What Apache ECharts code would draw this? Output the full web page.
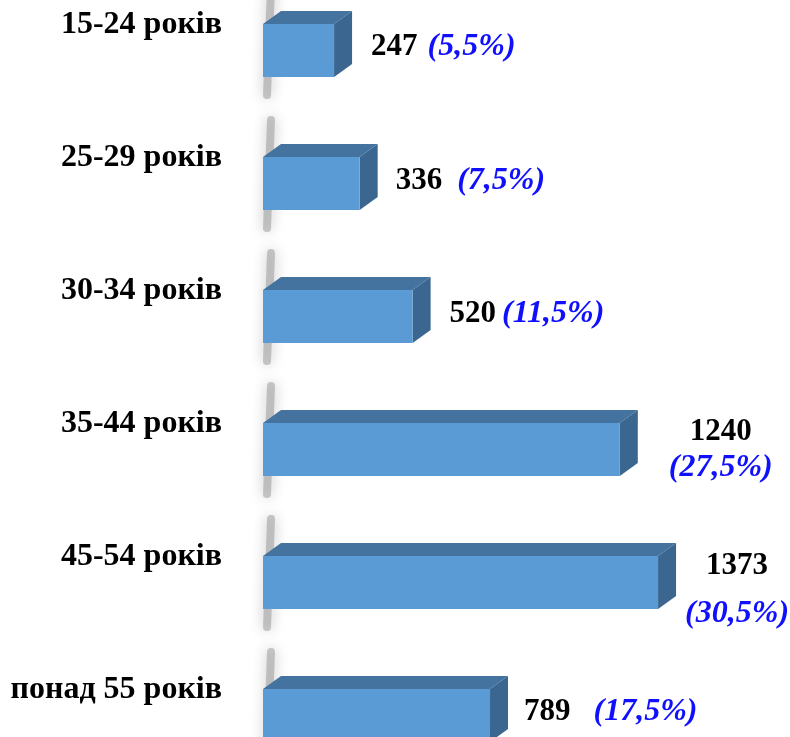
<!DOCTYPE html>
<html>
<head>
<meta charset="utf-8">
<script src="https://cdn.jsdelivr.net/npm/echarts@6/dist/echarts.min.js"></script>
<style>
html,body{margin:0;padding:0;background:#fff;overflow:hidden;width:790px;height:737px}
#main{position:absolute;left:0;top:-16px;width:790px;height:798px}
</style>
</head>
<body>
<div id="main"></div>
<script>
var categories = ['15-24 років', '25-29 років', '30-34 років', '35-44 років', '45-54 років', 'понад 55 років'];
var values = [247, 336, 520, 1240, 1373, 789];
var shares = ['5,5%', '7,5%', '11,5%', '27,5%', '30,5%', '17,5%'];

// where the value label goes for each bar (stacked = two lines)
var labelLayout = [
    {mode: 'inline', dx: 19, dy: -4, gap: 10},
    {mode: 'inline', dx: 18, dy: -3, gap: 15},
    {mode: 'inline', dx: 19, dy: -3, gap: 6},
    {mode: 'stacked', dx: 83, dy: 0, lh: 36},
    {mode: 'stacked', dx: 61, dy: 7, lh: 48},
    {mode: 'inline', dx: 16, dy: -4, gap: 23}
];

var serif = '"Liberation Serif", "Times New Roman", serif';
var depthX = 18, depthY = 13;

function renderBar(params, api) {
    var i = params.dataIndex;
    var p0 = api.coord([0, api.value(1)]);
    var p1 = api.coord([api.value(0), api.value(1)]);
    var h = api.size([0, 1])[1] * 0.4;
    var x0 = p0[0], x1 = p1[0], c = p0[1];
    var yt = c - h / 2, yb = c + h / 2;
    var lay = labelLayout[i];
    var style;
    if (lay.mode == 'stacked') {
        style = {
            text: '{n|' + values[i] + '}\n{p|(' + shares[i] + ')}',
            x: x1 + depthX + lay.dx, y: c + lay.dy,
            align: 'center', verticalAlign: 'middle',
            rich: {
                n: {fill: '#000', fontSize: 31, fontWeight: 'bold', fontFamily: serif, lineHeight: lay.lh, align: 'center'},
                p: {fill: '#1010ff', fontSize: 32, fontWeight: 'bold', fontStyle: 'italic', fontFamily: serif, lineHeight: lay.lh, align: 'center'}
            }
        };
    } else {
        style = {
            text: '{n|' + values[i] + '}{p|(' + shares[i] + ')}',
            x: x1 + depthX + lay.dx, y: c + lay.dy,
            align: 'left', verticalAlign: 'middle',
            rich: {
                n: {fill: '#000', fontSize: 31, fontWeight: 'bold', fontFamily: serif},
                p: {fill: '#1010ff', fontSize: 32, fontWeight: 'bold', fontStyle: 'italic', fontFamily: serif, padding: [0, 0, 0, lay.gap]}
            }
        };
    }
    return {
        type: 'group',
        children: [
            // blurred wall shadow at the foot of the bar
            {
                type: 'line',
                shape: {x1: x0 + 8, y1: yt - depthY - 24, x2: x0 + 4, y2: yb + 18},
                style: {stroke: 'rgba(140,140,140,0.45)', lineWidth: 8, shadowBlur: 14, shadowColor: 'rgba(0,0,0,0.5)', lineCap: 'round'}
            },
            {
                type: 'polygon',
                shape: {points: [[x0, yt], [x0 + depthX, yt - depthY], [x1 + depthX, yt - depthY], [x1, yt]]},
                style: {fill: '#44739f'}
            },
            {
                type: 'polygon',
                shape: {points: [[x1, yt], [x1 + depthX, yt - depthY], [x1 + depthX, yb - depthY], [x1, yb]]},
                style: {fill: '#3a6690'}
            },
            {
                type: 'rect',
                shape: {x: x0, y: yt, width: x1 - x0, height: h},
                style: {fill: '#5b9bd5'}
            },
            {type: 'text', style: style}
        ]
    };
}

var data = [];
for (var k = 0; k < values.length; k++) {
    data.push([values[k], k]);
}

var myChart = echarts.init(document.getElementById('main'));
var option = {
    backgroundColor: '#fff',
    animation: false,
    grid: {left: 263, right: 95.4, top: 0, bottom: 0},
    xAxis: {
        type: 'value', min: 0, max: 1500, show: false
    },
    yAxis: {
        type: 'category',
        inverse: true,
        data: categories,
        axisTick: {show: false},
        axisLine: {show: false},
        axisLabel: {
            margin: 41,
            formatter: function (v) {
                return '{a|' + v + '}\n{b| }';
            },
            rich: {
                a: {color: '#000', fontSize: 32, fontWeight: 'bold', fontFamily: serif, lineHeight: 36},
                b: {fontSize: 10, lineHeight: 51}
            }
        }
    },
    series: [{
        type: 'custom',
        renderItem: renderBar,
        encode: {x: 0, y: 1},
        data: data
    }]
};
myChart.setOption(option);
</script>
</body>
</html>
